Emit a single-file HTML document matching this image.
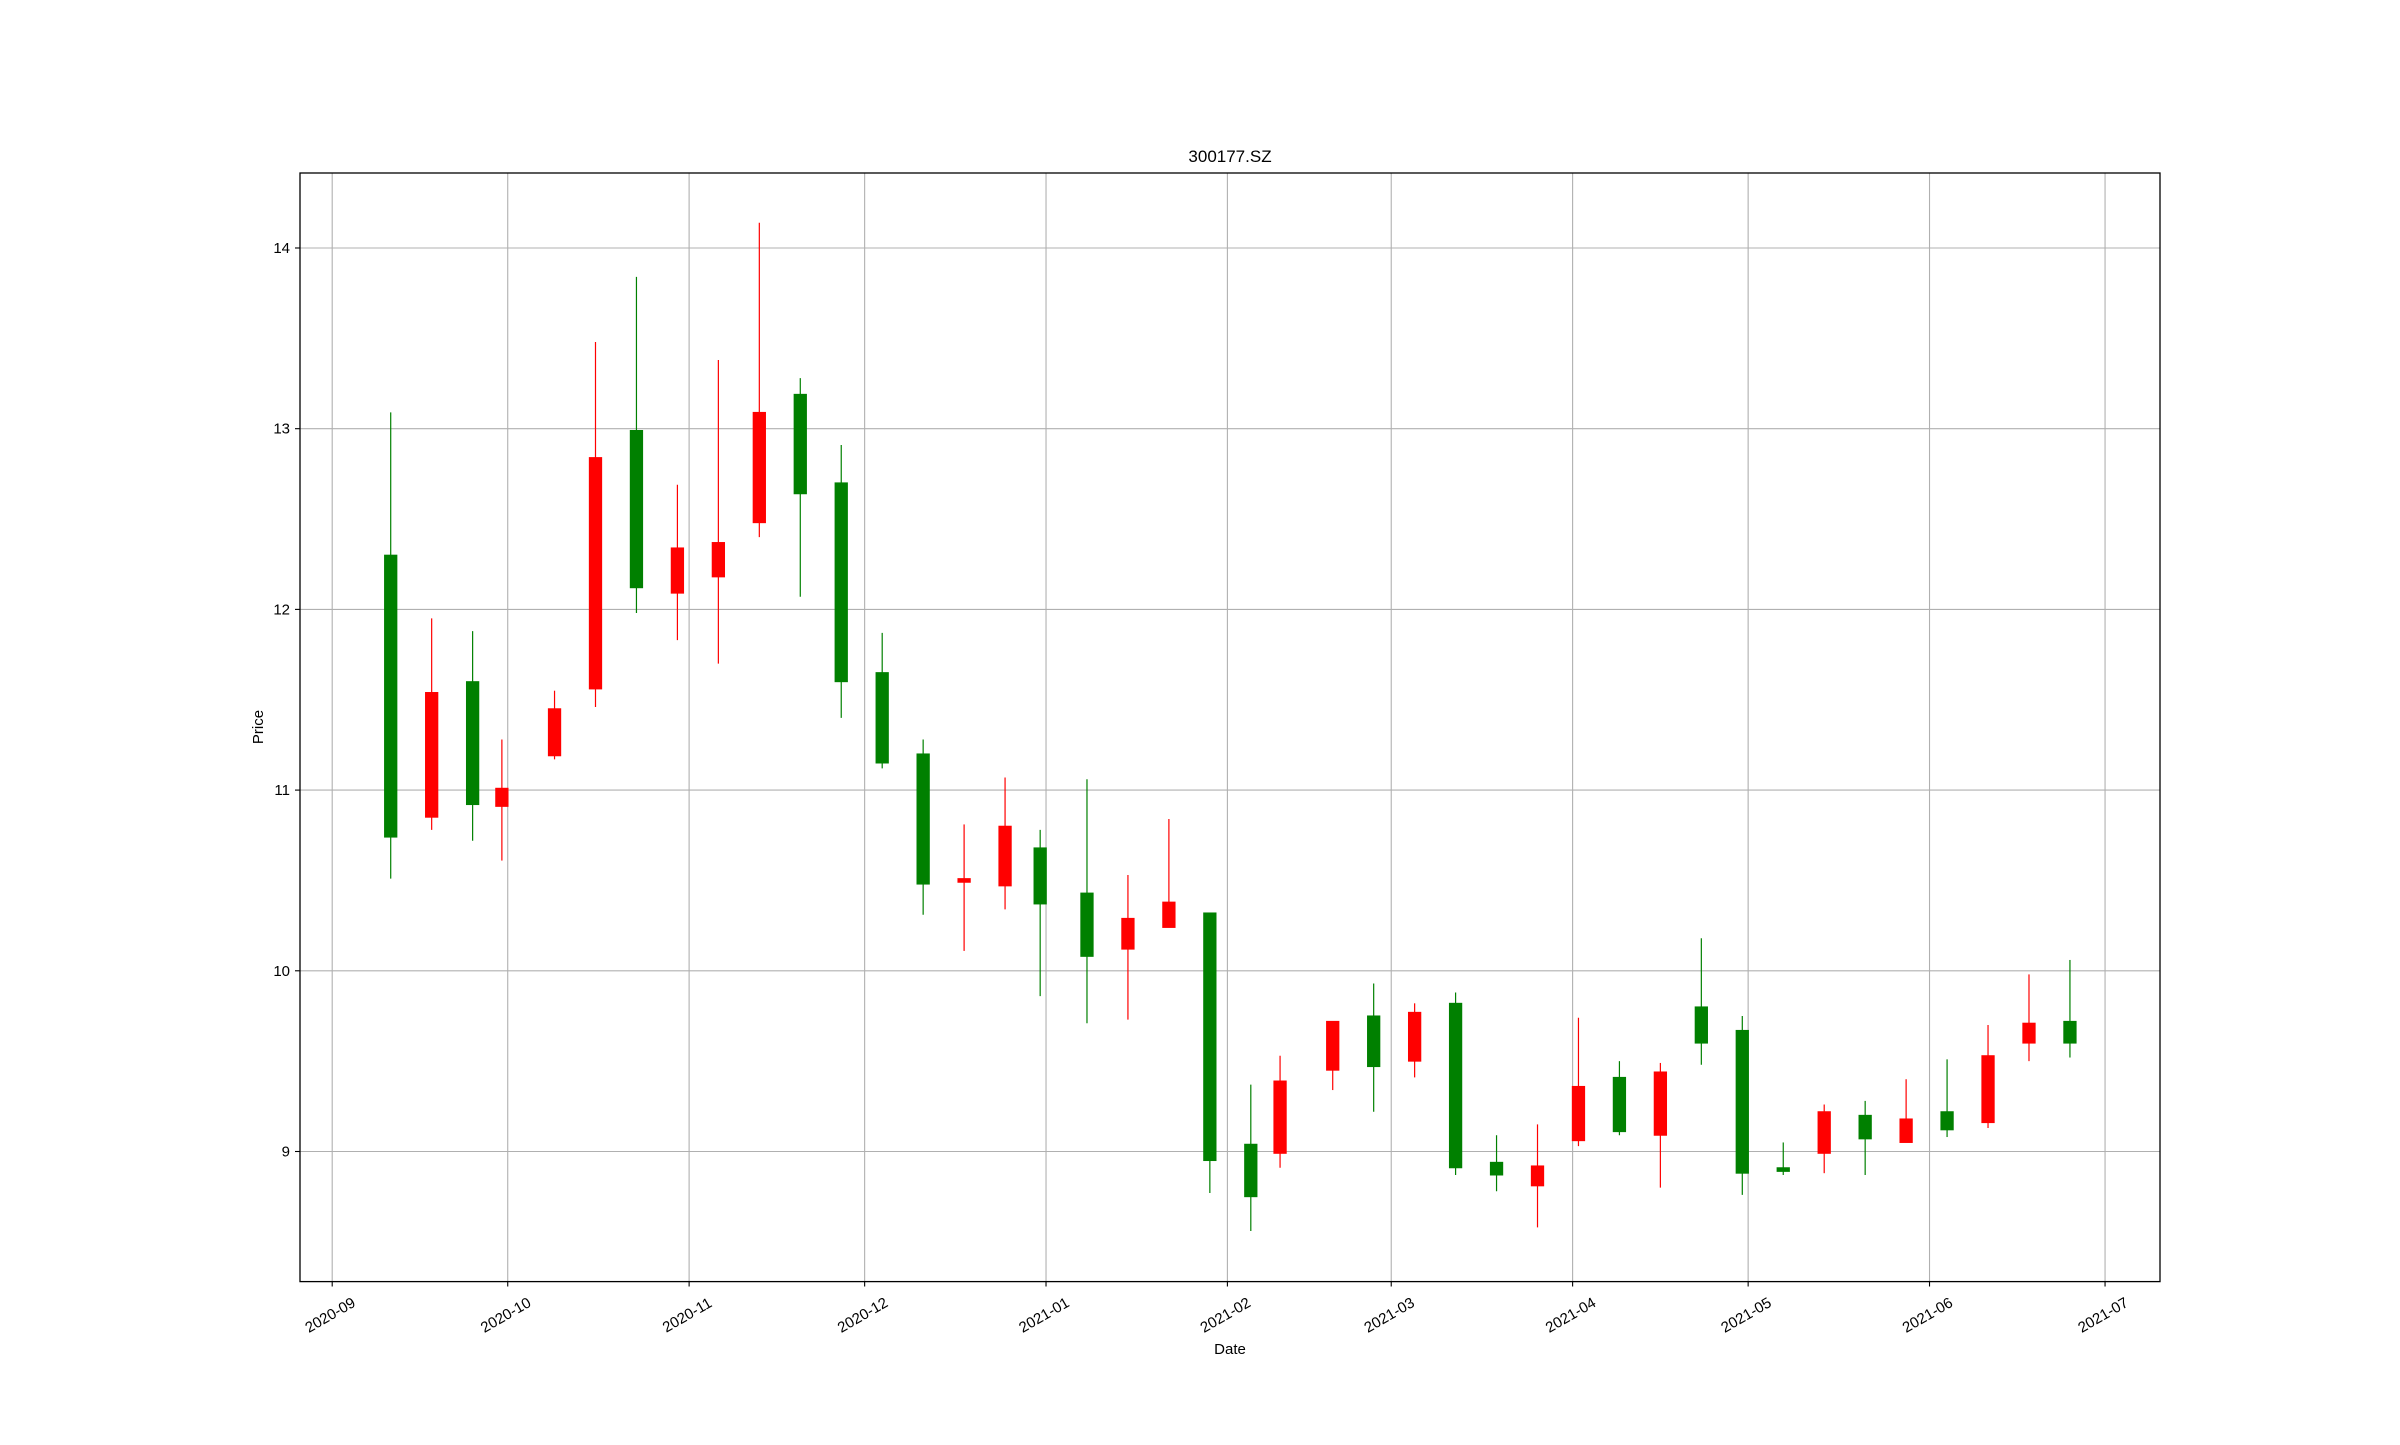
<!DOCTYPE html>
<html><head><meta charset="utf-8"><style>
html,body{margin:0;padding:0;background:#fff}
svg text{font-family:"WenQuanYi Zen Hei","Liberation Sans",sans-serif;fill:#000}
</style></head><body>
<svg id="chart" width="2400" height="1440" viewBox="0 0 2400 1440" xmlns="http://www.w3.org/2000/svg">
<rect width="2400" height="1440" fill="#fff"/>
<g id="grid"></g>
<g id="candles"></g>
<rect x="300" y="173" width="1860" height="1108.6" fill="none" stroke="#000" stroke-width="1.3"/>
<g id="axes"></g>
<text x="1230" y="162" font-size="17" text-anchor="middle">300177.SZ</text>
<text x="1230" y="1354" font-size="15" text-anchor="middle">Date</text>
<text x="263" y="727" font-size="15" text-anchor="middle" transform="rotate(-90 263 727)">Price</text>
</svg>
<script>
const dates = ["2020-09-11","2020-09-18","2020-09-25","2020-09-30","2020-10-09","2020-10-16","2020-10-23","2020-10-30","2020-11-06","2020-11-13","2020-11-20","2020-11-27","2020-12-04","2020-12-11","2020-12-18","2020-12-25","2020-12-31","2021-01-08","2021-01-15","2021-01-22","2021-01-29","2021-02-05","2021-02-10","2021-02-19","2021-02-26","2021-03-05","2021-03-12","2021-03-19","2021-03-26","2021-04-02","2021-04-09","2021-04-16","2021-04-23","2021-04-30","2021-05-07","2021-05-14","2021-05-21","2021-05-28","2021-06-04","2021-06-11","2021-06-18","2021-06-25"];
const opens = [12.30,10.85,11.60,10.91,11.19,11.56,12.99,12.09,12.18,12.48,13.19,12.70,11.65,11.20,10.49,10.47,10.68,10.43,10.12,10.24,10.32,9.04,8.99,9.45,9.75,9.50,9.82,8.94,8.81,9.06,9.41,9.09,9.80,9.67,8.91,8.99,9.20,9.05,9.22,9.16,9.60,9.72];
const highs = [13.09,11.95,11.88,11.28,11.55,13.48,13.84,12.69,13.38,14.14,13.28,12.91,11.87,11.28,10.81,11.07,10.78,11.06,10.53,10.84,10.32,9.37,9.53,9.72,9.93,9.82,9.88,9.09,9.15,9.74,9.50,9.49,10.18,9.75,9.05,9.26,9.28,9.40,9.51,9.70,9.98,10.06];
const lows = [10.51,10.78,10.72,10.61,11.17,11.46,11.98,11.83,11.70,12.40,12.07,11.40,11.12,10.31,10.11,10.34,9.86,9.71,9.73,10.24,8.77,8.56,8.91,9.34,9.22,9.41,8.87,8.78,8.58,9.03,9.09,8.80,9.48,8.76,8.87,8.88,8.87,9.05,9.08,9.13,9.50,9.52];
const closes = [10.74,11.54,10.92,11.01,11.45,12.84,12.12,12.34,12.37,13.09,12.64,11.60,11.15,10.48,10.51,10.80,10.37,10.08,10.29,10.38,8.95,8.75,9.39,9.72,9.47,9.77,8.91,8.87,8.92,9.36,9.11,9.44,9.60,8.88,8.89,9.22,9.07,9.18,9.12,9.53,9.71,9.60];
const yTicks = [9,10,11,12,13,14];
const xTickLabels = ["2020-09","2020-10","2020-11","2020-12","2021-01","2021-02","2021-03","2021-04","2021-05","2021-06","2021-07"];

const NS="http://www.w3.org/2000/svg";
const base=Date.UTC(2020,8,1);
function dayOf(s){const p=s.split("-");return (Date.UTC(+p[0],+p[1]-1,+p[2])-base)/86400000;}
const pxPerDay=5.851, x0=332.2;
function xScale(d){return x0+d*pxPerDay;}
const yMin=8.28,yMax=14.415,yTop=173,yBot=1281.6;
function yScale(v){return yBot-(v-yMin)/(yMax-yMin)*(yBot-yTop);}
function mk(tag,attrs,parent){const e=document.createElementNS(NS,tag);for(const k in attrs)e.setAttribute(k,attrs[k]);parent.appendChild(e);return e;}
const grid=document.getElementById("grid"),axes=document.getElementById("axes"),cg=document.getElementById("candles");

yTicks.forEach(v=>{
  const y=yScale(v);
  const g=mk("line",{x1:300,x2:2160,y1:y,y2:y,stroke:"#b0b0b0","stroke-width":1.1},grid);
  
  
  const t=mk("line",{x1:295,x2:300,y1:y,y2:y,stroke:"#000","stroke-width":1.1},axes);
  
  
  const l=mk("text",{x:290,y:y+5,"font-size":15,"text-anchor":"end"},axes);
  l.textContent=String(v);
  
  
});
xTickLabels.forEach(s=>{
  const x=xScale(dayOf(s+"-01"));
  const g=mk("line",{x1:x,x2:x,y1:173,y2:1281.6,stroke:"#b0b0b0","stroke-width":1.1},grid);
  
  
  const t=mk("line",{x1:x,x2:x,y1:1281.6,y2:1286.5,stroke:"#000","stroke-width":1.1},axes);
  
  
  const l=mk("text",{x:x-2,y:1320,"font-size":15,"text-anchor":"middle",transform:"rotate(-30 "+(x-2)+" 1315)"},axes);
  l.textContent=s;
  
  
});
const bw=2.1*pxPerDay;
dates.forEach((d,i)=>{
  const x=xScale(dayOf(d));
  const up=closes[i]>=opens[i];
  const col=up?"#ff0000":"#008000";
  const w=mk("line",{x1:x,x2:x,y1:yScale(highs[i]),y2:yScale(lows[i]),stroke:col,"stroke-width":1.2},cg);
  
  
  const top=yScale(Math.max(opens[i],closes[i])),bot=yScale(Math.min(opens[i],closes[i]));
  const b=mk("rect",{x:x-bw/2,y:top,width:bw,height:Math.max(bot-top,1.5),fill:col,stroke:col,"stroke-width":1},cg);
  
  
});
</script>
</body></html>
